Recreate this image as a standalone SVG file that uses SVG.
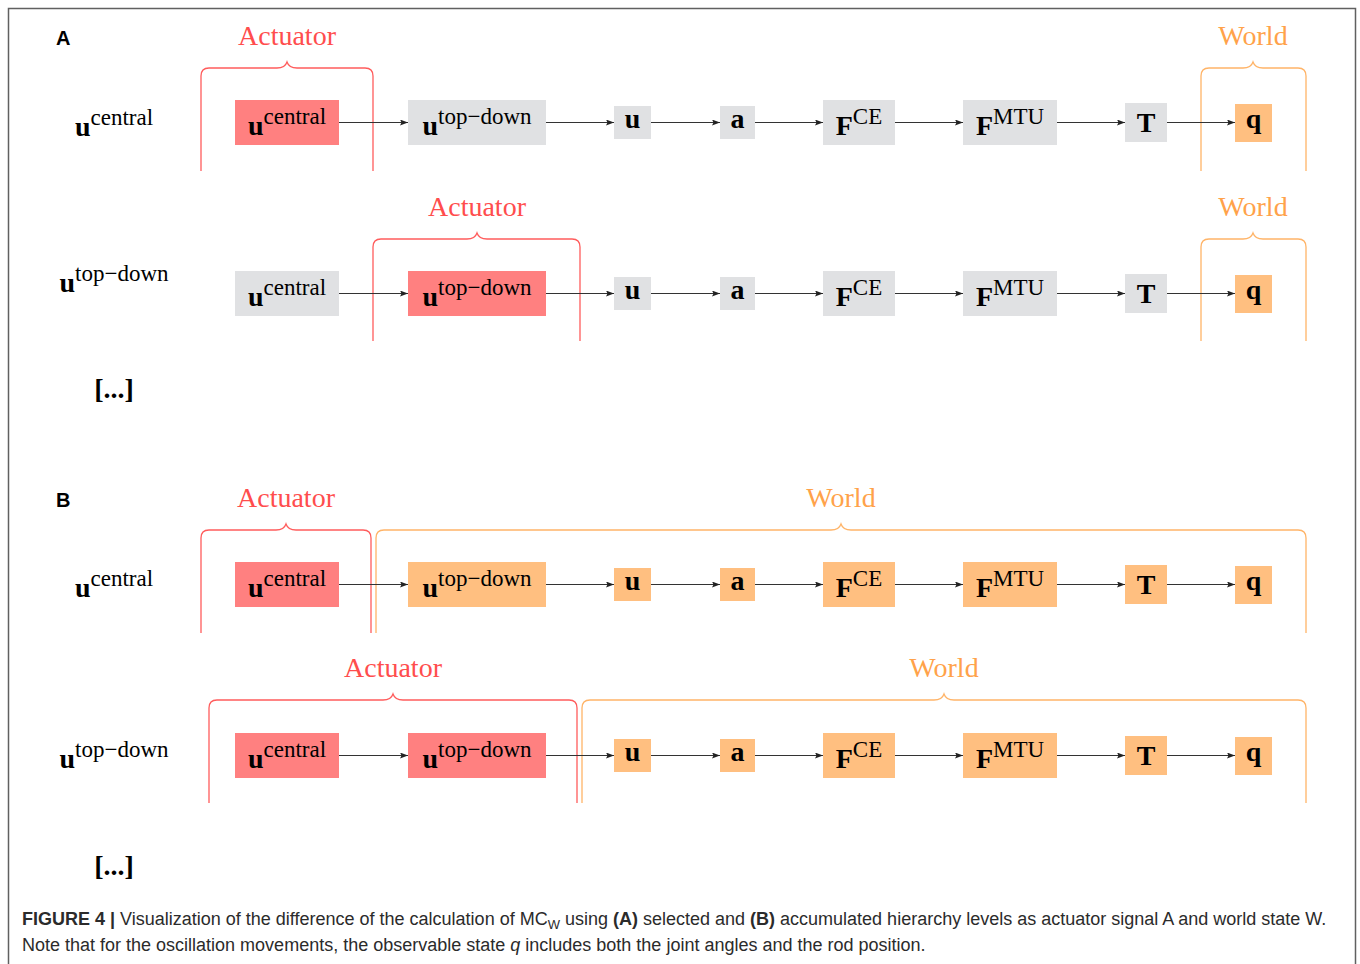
<svg xmlns="http://www.w3.org/2000/svg" width="1360" height="964" viewBox="0 0 1360 964">
<style>
.m{font-family:"Liberation Serif","Times New Roman",serif;text-anchor:middle;fill:#000}
.b{font-weight:bold;font-size:28px}
.s{font-size:23px;font-weight:normal}
.red{fill:#ff8080}
.gray{fill:#e0e1e3}
.org{fill:#ffbf80}
.brR{fill:none;stroke:#ff5c5c;stroke-width:1.3}
.brO{fill:none;stroke:#ffb468;stroke-width:1.3}
.tR{font-family:"Liberation Serif","Times New Roman",serif;font-size:28px;fill:#ff4d4d;text-anchor:middle}
.tO{font-family:"Liberation Serif","Times New Roman",serif;font-size:28px;fill:#ffa24a;text-anchor:middle}
.conn line{stroke:#333;stroke-width:1.2;marker-end:url(#ah)}
.pl{font-family:"Liberation Sans",Arial,sans-serif;font-weight:bold;font-size:20px;fill:#000}
.cap{font-family:"Liberation Sans",Arial,sans-serif;font-size:18px;fill:#2b2b2b}
.dots{font-family:"Liberation Serif","Times New Roman",serif;font-size:28px;font-weight:bold;text-anchor:middle}
</style>
<defs>
<marker id="ah" markerWidth="8" markerHeight="6" refX="8" refY="3" orient="auto" markerUnits="userSpaceOnUse">
<path d="M0,0 L8,3 L0,6 L1.5,3 Z" fill="#222"/>
</marker>
</defs>
<rect width="1360" height="964" fill="#fff"/>
<path d="M8.5 964 V8.5 H1355.5 V964" fill="none" stroke="#606060" stroke-width="1.5"/>

<text class="pl" x="56" y="45">A</text>
<text class="pl" x="56" y="507">B</text>

<!-- braces -->
<g id="braces">
<path class="brR" d="M201 171 V76 Q201 68 209 68 H277 Q285 68 287 62 Q289 68 297 68 H365 Q373 68 373 76 V171"/>
<text class="tR" x="287" y="45">Actuator</text>
<path class="brO" d="M1201 171 V76 Q1201 68 1209 68 H1243 Q1251 68 1253 62 Q1255 68 1263 68 H1298 Q1306 68 1306 76 V171"/>
<text class="tO" x="1253" y="45">World</text>

<path class="brR" d="M373 341 V247 Q373 239 381 239 H467 Q475 239 477 233 Q479 239 487 239 H572 Q580 239 580 247 V341"/>
<text class="tR" x="477" y="216">Actuator</text>
<path class="brO" d="M1201 341 V247 Q1201 239 1209 239 H1243 Q1251 239 1253 233 Q1255 239 1263 239 H1298 Q1306 239 1306 247 V341"/>
<text class="tO" x="1253" y="216">World</text>

<path class="brR" d="M201 633 V538 Q201 530 209 530 H276 Q284 530 286 524 Q288 530 296 530 H363 Q371 530 371 538 V633"/>
<text class="tR" x="286" y="507">Actuator</text>
<path class="brO" d="M376 633 V538 Q376 530 384 530 H831 Q839 530 841 524 Q843 530 851 530 H1298 Q1306 530 1306 538 V633"/>
<text class="tO" x="841" y="507">World</text>

<path class="brR" d="M209 803 V708 Q209 700 217 700 H383 Q391 700 393 694 Q395 700 403 700 H569 Q577 700 577 708 V803"/>
<text class="tR" x="393" y="677">Actuator</text>
<path class="brO" d="M582 803 V708 Q582 700 590 700 H934 Q942 700 944 694 Q946 700 954 700 H1298 Q1306 700 1306 708 V803"/>
<text class="tO" x="944" y="677">World</text>
</g>

<!-- left labels -->
<g id="label-a1"><text class="m" x="114" y="136"><tspan class="b">u</tspan><tspan class="s" dy="-11">central</tspan></text></g>
<g id="label-a2"><text class="m" x="114" y="292"><tspan class="b">u</tspan><tspan class="s" dy="-11">top−down</tspan></text></g>
<g id="label-b1"><text class="m" x="114" y="597"><tspan class="b">u</tspan><tspan class="s" dy="-11">central</tspan></text></g>
<g id="label-b2"><text class="m" x="114" y="768"><tspan class="b">u</tspan><tspan class="s" dy="-11">top−down</tspan></text></g>
<text class="dots" x="114" y="398">[...]</text>
<text class="dots" x="114" y="875">[...]</text>

<!-- connectors -->
<g id="connectors" class="conn">
<line x1="339" y1="122.5" x2="408" y2="122.5"/><line x1="546" y1="122.5" x2="614" y2="122.5"/><line x1="651" y1="122.5" x2="720" y2="122.5"/><line x1="755" y1="122.5" x2="823" y2="122.5"/><line x1="895" y1="122.5" x2="963" y2="122.5"/><line x1="1057" y1="122.5" x2="1125" y2="122.5"/><line x1="1167" y1="122.5" x2="1235" y2="122.5"/>
<line x1="339" y1="293.5" x2="408" y2="293.5"/><line x1="546" y1="293.5" x2="614" y2="293.5"/><line x1="651" y1="293.5" x2="720" y2="293.5"/><line x1="755" y1="293.5" x2="823" y2="293.5"/><line x1="895" y1="293.5" x2="963" y2="293.5"/><line x1="1057" y1="293.5" x2="1125" y2="293.5"/><line x1="1167" y1="293.5" x2="1235" y2="293.5"/>
<line x1="339" y1="584.5" x2="408" y2="584.5"/><line x1="546" y1="584.5" x2="614" y2="584.5"/><line x1="651" y1="584.5" x2="720" y2="584.5"/><line x1="755" y1="584.5" x2="823" y2="584.5"/><line x1="895" y1="584.5" x2="963" y2="584.5"/><line x1="1057" y1="584.5" x2="1125" y2="584.5"/><line x1="1167" y1="584.5" x2="1235" y2="584.5"/>
<line x1="339" y1="755.5" x2="408" y2="755.5"/><line x1="546" y1="755.5" x2="614" y2="755.5"/><line x1="651" y1="755.5" x2="720" y2="755.5"/><line x1="755" y1="755.5" x2="823" y2="755.5"/><line x1="895" y1="755.5" x2="963" y2="755.5"/><line x1="1057" y1="755.5" x2="1125" y2="755.5"/><line x1="1167" y1="755.5" x2="1235" y2="755.5"/>
</g>

<!-- Row A1 (top 100) -->
<g id="a1-central"><rect class="red" x="235" y="100" width="104" height="45"/><text class="m" x="287" y="135"><tspan class="b">u</tspan><tspan class="s" dy="-11">central</tspan></text></g>
<g id="a1-topdown"><rect class="gray" x="408" y="100" width="138" height="45"/><text class="m" x="477" y="135"><tspan class="b">u</tspan><tspan class="s" dy="-11">top−down</tspan></text></g>
<g id="a1-u"><rect class="gray" x="614" y="106" width="37" height="33"/><text class="m b" x="632.5" y="128">u</text></g>
<g id="a1-a"><rect class="gray" x="720" y="106" width="35" height="33"/><text class="m b" x="737.5" y="128">a</text></g>
<g id="a1-fce"><rect class="gray" x="823" y="100" width="72" height="45"/><text class="m" x="859" y="135"><tspan class="b">F</tspan><tspan class="s" dy="-11">CE</tspan></text></g>
<g id="a1-fmtu"><rect class="gray" x="963" y="100" width="94" height="45"/><text class="m" x="1010" y="135"><tspan class="b">F</tspan><tspan class="s" dy="-11">MTU</tspan></text></g>
<g id="a1-t"><rect class="gray" x="1125" y="103" width="42" height="39"/><text class="m b" x="1146" y="132">T</text></g>
<g id="a1-q"><rect class="org" x="1235" y="104" width="37" height="38"/><text class="m b" x="1253.5" y="128">q</text></g>

<!-- Row A2 (top 271) -->
<g id="a2-central"><rect class="gray" x="235" y="271" width="104" height="45"/><text class="m" x="287" y="306"><tspan class="b">u</tspan><tspan class="s" dy="-11">central</tspan></text></g>
<g id="a2-topdown"><rect class="red" x="408" y="271" width="138" height="45"/><text class="m" x="477" y="306"><tspan class="b">u</tspan><tspan class="s" dy="-11">top−down</tspan></text></g>
<g id="a2-u"><rect class="gray" x="614" y="277" width="37" height="33"/><text class="m b" x="632.5" y="299">u</text></g>
<g id="a2-a"><rect class="gray" x="720" y="277" width="35" height="33"/><text class="m b" x="737.5" y="299">a</text></g>
<g id="a2-fce"><rect class="gray" x="823" y="271" width="72" height="45"/><text class="m" x="859" y="306"><tspan class="b">F</tspan><tspan class="s" dy="-11">CE</tspan></text></g>
<g id="a2-fmtu"><rect class="gray" x="963" y="271" width="94" height="45"/><text class="m" x="1010" y="306"><tspan class="b">F</tspan><tspan class="s" dy="-11">MTU</tspan></text></g>
<g id="a2-t"><rect class="gray" x="1125" y="274" width="42" height="39"/><text class="m b" x="1146" y="303">T</text></g>
<g id="a2-q"><rect class="org" x="1235" y="275" width="37" height="38"/><text class="m b" x="1253.5" y="299">q</text></g>

<!-- Row B1 (top 562) -->
<g id="b1-central"><rect class="red" x="235" y="562" width="104" height="45"/><text class="m" x="287" y="597"><tspan class="b">u</tspan><tspan class="s" dy="-11">central</tspan></text></g>
<g id="b1-topdown"><rect class="org" x="408" y="562" width="138" height="45"/><text class="m" x="477" y="597"><tspan class="b">u</tspan><tspan class="s" dy="-11">top−down</tspan></text></g>
<g id="b1-u"><rect class="org" x="614" y="568" width="37" height="33"/><text class="m b" x="632.5" y="590">u</text></g>
<g id="b1-a"><rect class="org" x="720" y="568" width="35" height="33"/><text class="m b" x="737.5" y="590">a</text></g>
<g id="b1-fce"><rect class="org" x="823" y="562" width="72" height="45"/><text class="m" x="859" y="597"><tspan class="b">F</tspan><tspan class="s" dy="-11">CE</tspan></text></g>
<g id="b1-fmtu"><rect class="org" x="963" y="562" width="94" height="45"/><text class="m" x="1010" y="597"><tspan class="b">F</tspan><tspan class="s" dy="-11">MTU</tspan></text></g>
<g id="b1-t"><rect class="org" x="1125" y="565" width="42" height="39"/><text class="m b" x="1146" y="594">T</text></g>
<g id="b1-q"><rect class="org" x="1235" y="566" width="37" height="38"/><text class="m b" x="1253.5" y="590">q</text></g>

<!-- Row B2 (top 733) -->
<g id="b2-central"><rect class="red" x="235" y="733" width="104" height="45"/><text class="m" x="287" y="768"><tspan class="b">u</tspan><tspan class="s" dy="-11">central</tspan></text></g>
<g id="b2-topdown"><rect class="red" x="408" y="733" width="138" height="45"/><text class="m" x="477" y="768"><tspan class="b">u</tspan><tspan class="s" dy="-11">top−down</tspan></text></g>
<g id="b2-u"><rect class="org" x="614" y="739" width="37" height="33"/><text class="m b" x="632.5" y="761">u</text></g>
<g id="b2-a"><rect class="org" x="720" y="739" width="35" height="33"/><text class="m b" x="737.5" y="761">a</text></g>
<g id="b2-fce"><rect class="org" x="823" y="733" width="72" height="45"/><text class="m" x="859" y="768"><tspan class="b">F</tspan><tspan class="s" dy="-11">CE</tspan></text></g>
<g id="b2-fmtu"><rect class="org" x="963" y="733" width="94" height="45"/><text class="m" x="1010" y="768"><tspan class="b">F</tspan><tspan class="s" dy="-11">MTU</tspan></text></g>
<g id="b2-t"><rect class="org" x="1125" y="736" width="42" height="39"/><text class="m b" x="1146" y="765">T</text></g>
<g id="b2-q"><rect class="org" x="1235" y="737" width="37" height="38"/><text class="m b" x="1253.5" y="761">q</text></g>

<!-- caption -->
<text class="cap" x="22" y="925"><tspan font-weight="bold">FIGURE 4 |</tspan> Visualization of the difference of the calculation of MC<tspan font-size="13" dy="4">W</tspan><tspan dy="-4"> using </tspan><tspan font-weight="bold">(A)</tspan> selected and <tspan font-weight="bold">(B)</tspan> accumulated hierarchy levels as actuator signal A and world state W.</text>
<text class="cap" x="22" y="951">Note that for the oscillation movements, the observable state <tspan font-style="italic">q</tspan> includes both the joint angles and the rod position.</text>
</svg>
